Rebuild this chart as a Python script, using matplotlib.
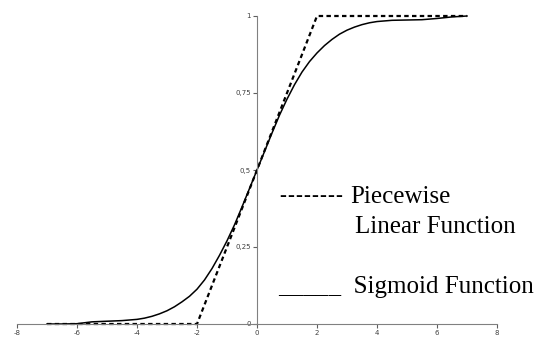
import matplotlib
matplotlib.use("Agg")
import matplotlib.pyplot as plt

# piecewise linear approximation (corner points)
pw_x = [-7, -2, 2, 7]
pw_y = [0, 0, 1, 1]

# sigmoid curve
sig_x = [-7, -6.5, -6, -5.75, -5.5, -5, -4.5, -4, -3.75, -3.5, -3.25, -3, -2.75,
         -2.5, -2.25, -2, -1.75, -1.5, -1.25, -1, -0.75, -0.5, -0.25, 0, 0.25,
         0.5, 0.75, 1, 1.25, 1.5, 1.75, 2, 2.25, 2.5, 2.75, 3, 3.25, 3.5, 3.75,
         4, 4.5, 5, 5.5, 6, 6.5, 7]
sig_y = [0, 0, 0.001, 0.004, 0.007, 0.009, 0.011, 0.015, 0.019, 0.025, 0.033,
         0.043, 0.056, 0.072, 0.09, 0.113, 0.143, 0.18, 0.223, 0.27, 0.322, 0.38,
         0.44, 0.5, 0.56, 0.62, 0.678, 0.73, 0.777, 0.818, 0.852, 0.88, 0.904,
         0.924, 0.941, 0.954, 0.964, 0.972, 0.978, 0.982, 0.986, 0.987, 0.988,
         0.992, 0.997, 1.0]

x_ticks = [-8, -6, -4, -2, 0, 2, 4, 6, 8]
y_ticks = [0, 0.25, 0.5, 0.75, 1]
y_labels = ["0", "0,25", "0,5", "0,75", "1"]

W, H = 539, 337
fig = plt.figure(figsize=(W / 100, H / 100), dpi=100)
ax = fig.add_axes([17 / W, 13 / H, 480 / W, 308 / H])

ax.plot(sig_x, sig_y, color="black", lw=1.1, clip_on=False)
ax.plot(pw_x, pw_y, color="black", lw=1.6, dashes=(2, 1.5), clip_on=False)

ax.set_xlim(-8, 8)
ax.set_ylim(0, 1)

for s in ["top", "right"]:
    ax.spines[s].set_visible(False)
ax.spines["left"].set_position(("data", 0))
ax.spines["left"].set_color("#808080")
ax.spines["bottom"].set_color("#808080")

ax.set_xticks(x_ticks)
ax.set_xticklabels([str(v) for v in x_ticks])
ax.set_yticks(y_ticks)
ax.set_yticklabels(y_labels)
ax.tick_params(axis="both", colors="#404040", labelsize=5, length=3, width=0.8, pad=1.5)
ax.tick_params(axis="both", color="#606060")

serif = ["Liberation Serif", "DejaVu Serif"]
fs = 18
# the hyphens of the key, set one by one so the gaps show
for i in range(8):
    fig.text((279 + i * 8) / W, (H - 201) / H, "-", family=serif, fontsize=15, va="baseline")
fig.text(350 / W, (H - 203) / H, "Piecewise", family=serif, fontsize=fs, va="baseline")
fig.text(355 / W, (H - 233) / H, "Linear Function", family=serif, fontsize=fs, va="baseline")
fig.text(278 / W, (H - 293) / H, "_____  Sigmoid Function", family=serif, fontsize=fs, va="baseline")

fig.savefig("out.png", dpi=100)
